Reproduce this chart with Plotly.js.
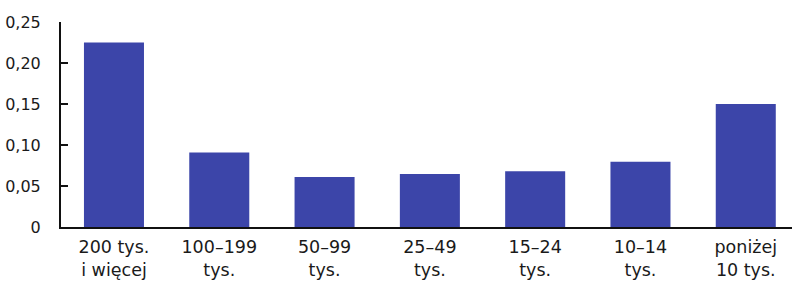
<!DOCTYPE html>
<html>
<head>
<meta charset="utf-8">
<script src="https://cdn.plot.ly/plotly-3.0.1.min.js"></script>
<style>html,body{margin:0;padding:0;background:#fff;}</style>
</head>
<body>
<div id="chart" style="width:792px;height:284px;"></div>
<script>
const categories = ["200 tys.<br>i więcej", "100–199<br>tys.", "50–99<br>tys.", "25–49<br>tys.", "15–24<br>tys.", "10–14<br>tys.", "poniżej<br>10 tys."];
const values = [0.225, 0.091, 0.061, 0.0645, 0.068, 0.0795, 0.150];
const yTickVals = [0, 0.05, 0.10, 0.15, 0.20, 0.25];
const yTickText = ["0", "0,05", "0,10", "0,15", "0,20", "0,25"];

const trace = {
  type: "bar",
  x: categories.map((c, i) => i),
  y: values,
  marker: {color: "#3c45a9"},
  width: 0.57,
  hoverinfo: "none"
};

const layout = {
  width: 792, height: 284,
  margin: {l: 61, r: 0, t: 22, b: 57},
  paper_bgcolor: "#fff", plot_bgcolor: "#fff",
  showlegend: false,
  font: {family: "DejaVu Sans", color: "#1a1a1a"},
  xaxis: {
    range: [-0.503, 6.439],
    tickvals: categories.map((c, i) => i),
    ticktext: categories,
    ticks: "",
    showgrid: false, zeroline: false,
    showline: true, linecolor: "#111", linewidth: 2,
    tickfont: {size: 17.5, color: "#1a1a1a"},
    ticklabelstandoff: 3,
    fixedrange: true
  },
  yaxis: {
    range: [0, 0.25],
    tickvals: yTickVals,
    ticktext: yTickText,
    ticks: "inside", ticklen: 7, tickwidth: 2, tickcolor: "#111",
    showgrid: false, zeroline: false,
    showline: true, linecolor: "#111", linewidth: 2,
    tickfont: {size: 16, color: "#1a1a1a"},
    ticklabelstandoff: 15,
    fixedrange: true
  }
};

Plotly.newPlot("chart", [trace], layout, {displayModeBar: false, staticPlot: true});
</script>
</body>
</html>
